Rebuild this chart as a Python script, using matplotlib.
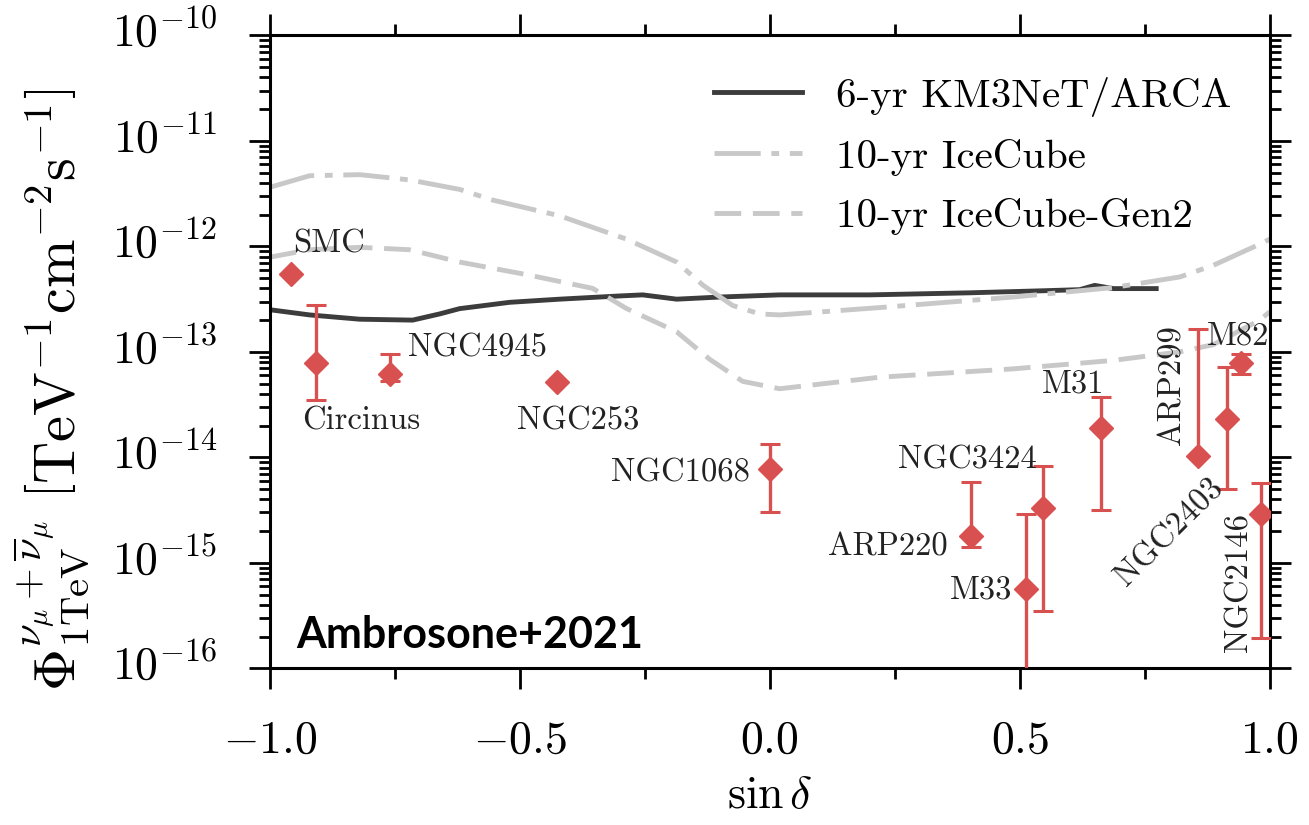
import numpy as np
import matplotlib.pyplot as plt
import matplotlib.transforms as mtransforms
from matplotlib.ticker import LogLocator, NullFormatter

# ---- data ----
# 6-yr KM3NeT/ARCA sensitivity
km3_sin = [-1.0, -0.92, -0.82, -0.714, -0.66, -0.62, -0.52, -0.42, -0.30, -0.254,
           -0.186, -0.10, 0.02, 0.2, 0.4, 0.55, 0.62, 0.65, 0.687, 0.773]
km3_flux = [2.51e-13, 2.24e-13, 2.04e-13, 2.0e-13, 2.29e-13, 2.57e-13, 2.95e-13, 3.16e-13,
            3.39e-13, 3.47e-13, 3.16e-13, 3.31e-13, 3.47e-13, 3.47e-13, 3.63e-13, 3.80e-13,
            3.89e-13, 4.27e-13, 3.98e-13, 3.98e-13]

# 10-yr IceCube
ic_sin = [-1.0, -0.92, -0.82, -0.72, -0.62, -0.554, -0.42, -0.286, -0.186, -0.133,
          -0.074, -0.02, 0.02, 0.22, 0.487, 0.687, 0.82, 0.887, 0.98, 1.0]
ic_flux = [3.63e-12, 4.68e-12, 4.79e-12, 4.27e-12, 3.47e-12, 2.75e-12, 1.95e-12, 1.17e-12,
           7.1e-13, 4.27e-13, 2.75e-13, 2.29e-13, 2.24e-13, 2.63e-13, 3.31e-13, 4.07e-13,
           5.13e-13, 6.61e-13, 1.05e-12, 1.17e-12]

# 10-yr IceCube-Gen2
gen2_sin = [-1.0, -0.92, -0.82, -0.72, -0.62, -0.486, -0.354, -0.286, -0.186, -0.12,
            -0.054, 0.02, 0.22, 0.487, 0.687, 0.82, 0.887, 0.98, 1.0]
gen2_flux = [7.9e-13, 9.3e-13, 9.8e-13, 9.3e-13, 7.1e-13, 5.4e-13, 4.0e-13, 2.57e-13,
             1.55e-13, 8.5e-14, 5.25e-14, 4.47e-14, 5.75e-14, 6.9e-14, 8.3e-14, 1.0e-13,
             1.17e-13, 2.0e-13, 2.4e-13]

# starburst galaxies
names = ["SMC", "Circinus", "NGC4945", "NGC253", "NGC1068", "ARP220", "M33",
         "NGC3424", "M31", "ARP299", "NGC2403", "M82", "NGC2146"]
src_sin = [-0.958, -0.908, -0.76, -0.426, 0.0, 0.402, 0.513, 0.547, 0.663, 0.857,
           0.915, 0.943, 0.983]
src_flux = [5.5e-13, 7.8e-14, 6.2e-14, 5.2e-14, 7.8e-15, 1.8e-15, 5.6e-16, 3.3e-15,
            1.9e-14, 1.02e-14, 2.3e-14, 7.8e-14, 2.9e-15]
src_lo = [np.nan, 3.5e-14, 5.3e-14, np.nan, 3.0e-15, 1.4e-15, 5e-17, 3.5e-16,
          3.2e-15, 1.02e-14, 5.0e-15, 6.2e-14, 1.95e-16]
src_hi = [np.nan, 2.8e-13, 9.5e-14, np.nan, 1.35e-14, 5.8e-15, 2.9e-15, 8.3e-15,
          3.7e-14, 1.65e-13, 7.2e-14, 9.5e-14, 5.7e-15]

# y tick decades
y_decades = [-16, -15, -14, -13, -12, -11, -10]

# label placement: (x, y, ha, va, rotation)
label_pos = {
    "SMC": (-0.954, 1.05e-12, "left", "center", 0),
    "Circinus": (-0.936, 2.2e-14, "left", "center", 0),
    "NGC4945": (-0.724, 1.1e-13, "left", "center", 0),
    "NGC253": (-0.506, 2.2e-14, "left", "center", 0),
    "NGC1068": (-0.04, 7.1e-15, "right", "center", 0),
    "ARP220": (0.356, 1.4e-15, "right", "center", 0),
    "M33": (0.486, 5.5e-16, "right", "center", 0),
    "NGC3424": (0.256, 9.5e-15, "left", "center", 0),
    "M31": (0.606, 5.0e-14, "center", "center", 0),
    "ARP299": (0.804, 4.8e-14, "center", "center", 90),
    "NGC2403": (0.80, 1.95e-15, "center", "center", 45),
    "M82": (0.874, 1.4e-13, "left", "center", 0),
    "NGC2146": (0.938, 6.5e-16, "center", "center", 90),
}

plt.rcParams['font.family'] = 'serif'
plt.rcParams['font.serif'] = ['cmr10', 'DejaVu Serif']
plt.rcParams['mathtext.fontset'] = 'cm'
plt.rcParams['axes.formatter.use_mathtext'] = True
plt.rcParams['axes.unicode_minus'] = False

red = '#d8504f'
gray = '#c8c8c8'

fig = plt.figure(figsize=(13.09, 8.25), dpi=100)
ax = fig.add_axes([0.206, 0.19, 0.764, 0.767])

ax.plot(km3_sin, km3_flux, color='#3c3c3c', lw=3.5, label='6-yr KM3NeT/ARCA')
ax.plot(ic_sin, ic_flux, color=gray, lw=3.5, dashes=(9.5, 2.2, 1.6, 2.2), label='10-yr IceCube')
ax.plot(gen2_sin, gen2_flux, color=gray, lw=3.5, dashes=(5.5, 2.4), label='10-yr IceCube-Gen2')

s = np.array(src_sin)
f = np.array(src_flux)
lo = np.array(src_lo)
hi = np.array(src_hi)
has_err = ~np.isnan(lo)
ax.errorbar(s[has_err], f[has_err], yerr=[f[has_err] - lo[has_err], hi[has_err] - f[has_err]],
            fmt='none', ecolor=red, elinewidth=2.4, capsize=7, capthick=2.2, zorder=3)
ax.plot(s, f, 'D', color=red, ms=12, mec=red, zorder=4)

for n in names:
    x, y, ha, va, rot = label_pos[n]
    ax.text(x, y, n, ha=ha, va=va, rotation=rot, fontsize=23.5, color='#222222', zorder=5)

ax.text(0.027, 0.052, 'Ambrosone+2021', transform=ax.transAxes, fontsize=31,
        fontweight='bold', family=['Lato', 'DejaVu Sans'], ha='left', va='center')

ax.set_yscale('log')
ax.set_xlim(-1.0, 1.0)
ax.set_ylim(1e-16, 1e-10)
yt = [10.0 ** d for d in y_decades]
ax.set_yticks(yt)
ax.yaxis.set_minor_locator(LogLocator(base=10, subs=np.arange(2, 10), numticks=100))
ax.yaxis.set_minor_formatter(NullFormatter())
ax.set_xticks([-1.0, -0.5, 0.0, 0.5, 1.0])
ax.set_xticks([-0.75, -0.25, 0.25, 0.75], minor=True)
ax.tick_params(which='both', direction='out', top=True, right=True, width=2, labelsize=33)
ax.tick_params(which='major', length=15)
ax.tick_params(which='minor', length=8)
ax.tick_params(axis='x', which='major', pad=22)
ax.tick_params(axis='y', labelleft=False)
for sp in ax.spines.values():
    sp.set_linewidth(2.2)

# y tick labels drawn by hand so they sit like the original's
ylab_tr = ax.get_yaxis_transform() + mtransforms.ScaledTranslation(0, 2 / 72, fig.dpi_scale_trans)
for d, v in zip(y_decades, yt):
    ax.text(-0.052, v, r'$10^{%d}$' % d, transform=ylab_tr, ha='right', va='center',
            fontsize=33, clip_on=False)

ax.set_xlabel(r'$\sin\delta$', fontsize=33, labelpad=10)
ax.set_ylabel(r'$\Phi^{\nu_\mu+\overline{\nu}_\mu}_{1\mathrm{TeV}}\ \left[\mathrm{TeV}^{-1}\mathrm{cm}^{-2}\mathrm{s}^{-1}\right]$',
              fontsize=42)
ax.yaxis.set_label_coords(-0.178, 0.44)

ax.legend(loc='upper right', bbox_to_anchor=(0.962, 0.935), frameon=False, fontsize=29.5,
          handlelength=2.15, labelspacing=0.54, handletextpad=0.83, borderaxespad=0, borderpad=0)

plt.savefig('out.png', dpi=100)
